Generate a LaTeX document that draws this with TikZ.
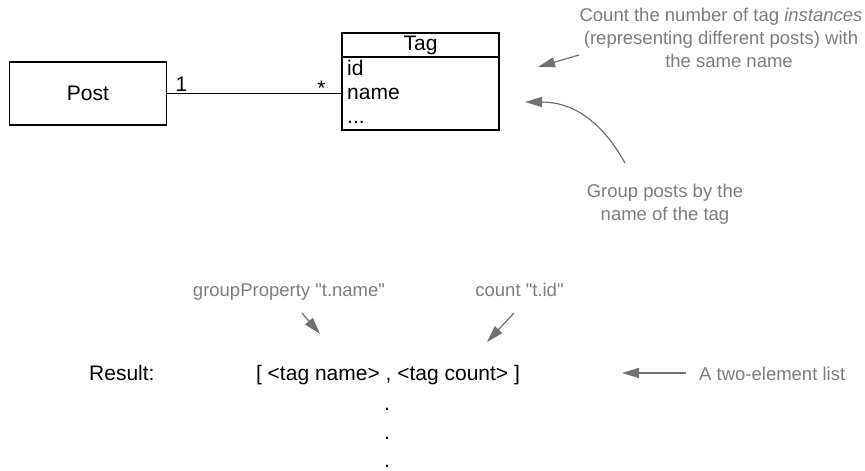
\documentclass[tikz,border=0pt]{standalone}
\usepackage{fontspec}
\setmainfont{Liberation Sans}[Ligatures=TeXOff]
\usetikzlibrary{arrows.meta}
\definecolor{notegray}{RGB}{125,125,125}
\definecolor{arrowgray}{RGB}{112,112,112}
\begin{document}
\begin{tikzpicture}[x=1pt,y=-1pt,
  blk/.style={font=\fontsize{21}{25}\selectfont, inner sep=0pt, text=black},
  note/.style={font=\fontsize{18.5}{23}\selectfont, inner sep=0pt, text=notegray},
  umlbox/.style={draw=black, line width=1.3pt, inner sep=0pt},
  pointer/.style={draw=arrowgray, line width=1.2pt, -{Triangle[length=17pt,width=10pt]}},
]
\useasboundingbox (0,0) rectangle (865,471);

% Post class
\node[umlbox, minimum width=157pt, minimum height=63pt, font=\fontsize{21}{25}\selectfont] (post) at (88,93.5) {Post};

% Tag class
\node[umlbox, minimum width=157pt, minimum height=97pt] (tag) at (420.5,81.5) {};
\draw[line width=1.3pt] (tag.west |- 0,57) -- (tag.east |- 0,57);
\node[blk, anchor=base] (tagtitle) at (420.5,50) {Tag};
\node[blk, anchor=base west] (tagid) at (347,75) {id};
\node[blk, anchor=base west] (tagname) at (347,99) {name};
\node[blk, anchor=base west] (tagdots) at (347,123) {...};

% association
\draw[line width=1.3pt] (post.east) -- (post.east -| tag.west);
\node[blk, anchor=base] (one) at (181.5,91) {1};
\node[blk, anchor=base] (many) at (321.5,95) {*};

% annotation: count instances
\node[note, anchor=base] (cnt1) at (721,21) {Count the number of tag \textit{instances}};
\node[note, anchor=base] (cnt2) at (721,44) {(representing different posts) with};
\node[note, anchor=base] (cnt3) at (729,67) {the same name};
\coordinate (c1s) at (579,55);
\coordinate (c1e) at (538,67);
\draw[pointer] (c1s) -- (c1e);

% annotation: group posts
\node[note, anchor=base] (grp1) at (665,197) {Group posts by the};
\node[note, anchor=base] (grp2) at (665,220) {name of the tag};
\coordinate (g1s) at (625,163);
\coordinate (g1e) at (525,102);
\draw[pointer] (g1s) .. controls (600,118) and (570,102) .. (g1e);

% lower part
\node[note, anchor=base] (gprop) at (289,296) {groupProperty "t.name"};
\node[note, anchor=base] (cprop) at (519.5,296) {count "t.id"};
\coordinate (gps) at (302,313);
\coordinate (gpe) at (320,334);
\draw[pointer] (gps) -- (gpe);
\coordinate (cps) at (514,313);
\coordinate (cpe) at (487,342);
\draw[pointer] (cps) -- (cpe);

\node[blk, anchor=base west] (result) at (89,380.5) {Result:};
\node[blk, anchor=base] (pair) at (388,380.5) {[ <tag name> , <tag count> ]};
\node[blk, anchor=base] (dot1) at (387,410) {.};
\node[blk, anchor=base] (dot2) at (387,439) {.};
\node[blk, anchor=base] (dot3) at (387,467) {.};

\node[note, anchor=base west] (twoel) at (699,380) {A two-element list};
\coordinate (tes) at (686,373);
\coordinate (tee) at (622,373);
\draw[pointer] (tes) -- (tee);
\end{tikzpicture}
\end{document}
